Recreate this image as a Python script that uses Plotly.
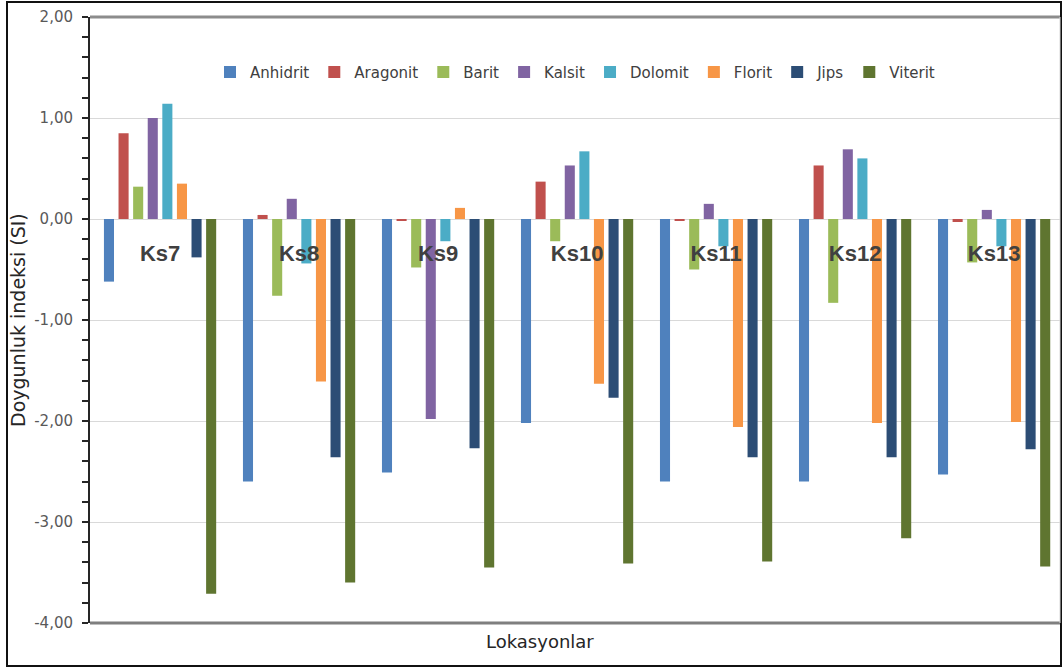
import plotly.graph_objects as go

categories = ["Ks7", "Ks8", "Ks9", "Ks10", "Ks11", "Ks12", "Ks13"]
series_names = ["Anhidrit", "Aragonit", "Barit", "Kalsit", "Dolomit", "Florit", "Jips", "Viterit"]

anhidrit = [-0.62, -2.60, -2.51, -2.02, -2.60, -2.60, -2.53]
aragonit = [0.85, 0.04, -0.02, 0.37, -0.01, 0.53, -0.03]
barit = [0.32, -0.76, -0.48, -0.22, -0.50, -0.83, -0.43]
kalsit = [1.00, 0.20, -1.98, 0.53, 0.15, 0.69, 0.09]
dolomit = [1.14, -0.44, -0.22, 0.67, -0.27, 0.60, -0.27]
florit = [0.35, -1.61, 0.11, -1.63, -2.06, -2.02, -2.01]
jips = [-0.38, -2.36, -2.27, -1.77, -2.36, -2.36, -2.28]
viterit = [-3.71, -3.60, -3.45, -3.41, -3.39, -3.16, -3.44]

series_values = [anhidrit, aragonit, barit, kalsit, dolomit, florit, jips, viterit]
colors = ["#4F81BD", "#C0504D", "#9BBB59", "#8064A2", "#4BACC6", "#F79646", "#2C4D75", "#5F7530"]

y_tick_vals = [-4, -3, -2, -1, 0, 1, 2]
y_tick_text = ["-4,00", "-3,00", "-2,00", "-1,00", "0,00", "1,00", "2,00"]

fig = go.Figure()
for name, vals, col in zip(series_names, series_values, colors):
    fig.add_trace(go.Bar(name=name, x=categories, y=vals, marker=dict(color=col, line=dict(width=0))))

TXT = "#404040"
fig.update_layout(
    width=1062, height=670,
    margin=dict(l=90, r=2, t=17, b=47),
    paper_bgcolor="white", plot_bgcolor="white",
    barmode="group", bargap=0.16, bargroupgap=0.31,
    showlegend=True,
    legend=dict(orientation="h", x=0.5, xanchor="center", y=0.909, yanchor="middle",
                font=dict(family="DejaVu Sans", size=15, color=TXT),
                bgcolor="rgba(0,0,0,0)", itemwidth=30, tracegroupgap=0),
    font=dict(family="DejaVu Sans", color=TXT),
)

fig.update_xaxes(
    type="category", range=[-0.504, 6.474],
    anchor="free", position=2/3,
    showline=False, showgrid=False, zeroline=False, ticks="",
    tickfont=dict(family="Liberation Sans", size=22, color=TXT, weight="bold"),
    ticklabelstandoff=19,
)
fig.update_yaxes(
    range=[-4, 2], tickvals=y_tick_vals, ticktext=y_tick_text,
    showgrid=True, gridcolor="#D9D9D9", gridwidth=1,
    zeroline=True, zerolinecolor="#D9D9D9", zerolinewidth=1,
    showline=True, linecolor="#262626", linewidth=2,
    ticks="outside", ticklen=6, tickwidth=2, tickcolor="#262626",
    minor=dict(dtick=0.2, ticks="outside", ticklen=6, tickwidth=2, tickcolor="#262626", showgrid=False),
    tickfont=dict(family="DejaVu Sans", size=15, color="#595959"),
    ticklabelstandoff=6,
)

# plot area border lines (top, bottom, right) and outer chart frame
fig.add_shape(type="line", xref="paper", yref="paper", x0=0, x1=1, y0=1, y1=1,
              line=dict(color="#8C8C8C", width=3))
fig.add_shape(type="line", xref="paper", yref="paper", x0=0, x1=1, y0=0, y1=0,
              line=dict(color="#7F7F7F", width=3))
fig.add_shape(type="line", xref="paper", yref="paper", x0=1, x1=1, y0=0, y1=1,
              line=dict(color="#D9D9D9", width=1))
fig.add_shape(type="rect", xref="paper", yref="paper",
              x0=(7 - 90) / 970, x1=(1061 - 90) / 970, y0=(623 - 666) / 606, y1=(623 - 2) / 606,
              line=dict(color="#111111", width=2), layer="below")

fig.add_annotation(text="Lokasyonlar", xref="paper", yref="paper",
                   x=(540 - 90) / 970, y=(623 - 641) / 606, xanchor="center", yanchor="middle",
                   showarrow=False, font=dict(family="DejaVu Sans", size=18, color="#262626"))
fig.add_annotation(text="Doygunluk indeksi (SI)", xref="paper", yref="paper",
                   x=(18 - 90) / 970, y=0.5, xanchor="center", yanchor="middle", textangle=-90,
                   showarrow=False, font=dict(family="DejaVu Sans", size=19, color="#262626"))

fig.write_html("out.html", config={"displayModeBar": False},
               post_script="document.body.style.margin='0';document.body.style.overflow='hidden';")
